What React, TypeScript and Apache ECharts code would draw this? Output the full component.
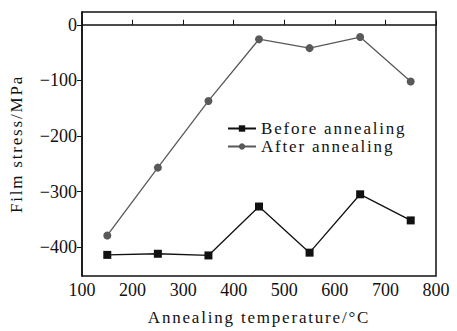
import React, { useEffect, useRef } from "react";
import * as echarts from "echarts";

const temps = [150, 250, 350, 450, 550, 650, 750];
const beforeAnnealing = [-414, -412, -415, -327, -410, -305, -352];
const afterAnnealing = [-379, -257, -137, -26, -42, -22, -102];
const xTicks = [100, 200, 300, 400, 500, 600, 700, 800];
const yTicks = [-400, -300, -200, -100, 0];
const xName = "Annealing temperature/°C";
const yName = "Film stress/MPa";
const seriesNames = ["Before annealing", "After annealing"];

export default function App() {
  const ref = useRef<HTMLDivElement>(null);
  useEffect(() => {
    if (!ref.current) return;
    const chart = echarts.init(ref.current, null, { renderer: "svg" });
    const font = "Liberation Serif";
    chart.setOption({
      animation: false,
      textStyle: { fontFamily: font },
      grid: {
        left: 76,
        top: 12,
        right: 21,
        bottom: 53,
        show: true,
        borderColor: "#111",
        borderWidth: 1.5,
      },
      legend: {
        orient: "vertical",
        left: 222,
        top: 115,
        itemWidth: 28,
        itemHeight: 8,
        itemGap: 1,
        textStyle: { fontFamily: font, fontSize: 17, color: "#111" },
        data: seriesNames,
      },
      xAxis: {
        type: "value",
        min: 100,
        max: 800,
        interval: 100,
        name: xName,
        nameLocation: "middle",
        nameGap: 33,
        nameTextStyle: { fontFamily: font, fontSize: 17, color: "#111" },
        axisLine: { lineStyle: { color: "#111", width: 1.5 } },
        axisTick: { inside: true, length: 5, lineStyle: { color: "#111" }, customValues: xTicks },
        axisLabel: { fontFamily: font, fontSize: 18, color: "#111", margin: 5, customValues: xTicks },
        splitLine: { show: false },
      },
      yAxis: {
        type: "value",
        min: -452,
        max: 23,
        name: yName,
        nameLocation: "middle",
        nameGap: 57,
        nameTextStyle: { fontFamily: font, fontSize: 17, color: "#111" },
        axisLine: { show: true, lineStyle: { color: "#111", width: 1.5 } },
        axisTick: {
          show: true,
          length: 5,
          lineStyle: { color: "#111" },
          customValues: yTicks,
        },
        axisLabel: {
          fontFamily: font,
          fontSize: 18,
          color: "#111",
          margin: 5,
          customValues: yTicks,
          formatter: (v: number) => (v < 0 ? "\u2212" + Math.abs(v) : String(v)),
        },
        splitLine: { show: false },
      },
      series: [
        {
          name: seriesNames[0],
          type: "line",
          data: temps.map((t, i) => [t, beforeAnnealing[i]]),
          symbol: "rect",
          symbolSize: 8,
          lineStyle: { color: "#111", width: 1.3 },
          itemStyle: { color: "#111" },
        },
        {
          name: seriesNames[1],
          type: "line",
          data: temps.map((t, i) => [t, afterAnnealing[i]]),
          symbol: "circle",
          symbolSize: 8,
          lineStyle: { color: "#595959", width: 1.3 },
          itemStyle: { color: "#595959" },
        },
      ],
    });
    const spaced = new Set([xName, yName, ...seriesNames]);
    ref.current.querySelectorAll("text").forEach((el) => {
      if (spaced.has((el.textContent || "").trim())) {
        (el as SVGTextElement).style.letterSpacing = "1.8px";
      }
    });
    return () => chart.dispose();
  }, []);
  return <div ref={ref} style={{ width: 457, height: 331, position: "absolute", left: 0, top: 0 }} />;
}
